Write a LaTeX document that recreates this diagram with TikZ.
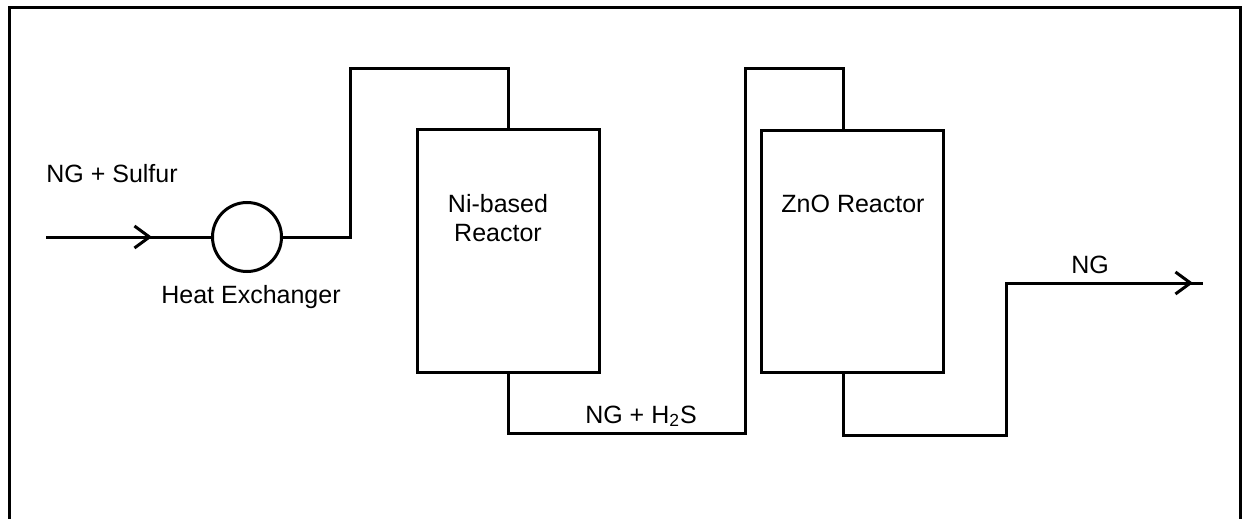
\documentclass[tikz,border=0pt]{standalone}
\usepackage{fontspec}
\setmainfont{Liberation Sans}
\usetikzlibrary{arrows.meta, positioning, calc}
\tikzset{
    reactor/.style={rectangle, draw, line width=1.5pt, minimum width=91pt, minimum height=121pt, inner sep=0pt},
    pipe/.style={line width=1.5pt},
    flow/.style={line width=1.5pt, -{Straight Barb[length=7.5pt, width=11pt, line width=1.5pt]}},
    txt/.style={anchor=base, inner sep=0pt, font=\fontsize{12.5}{14}\selectfont}
}

\begin{document}
\begin{tikzpicture}[x=0.5pt, y=-0.5pt]
    \useasboundingbox (0,0) rectangle (1242,519);
    % frame, open at the bottom
    \draw [line width=1.5pt] (9,519) -- (9,8) -- (1240,8) -- (1240,519);

    \node (hx) [circle, draw, line width=1.5pt, minimum size=34.5pt, inner sep=0pt] at (247,237) {};
    \node (ni) [reactor] at (508,251) {};
    \node (zn) [reactor] at (852,251.5) {};

    \node (feed) [txt] at (112,183) {NG + Sulfur};
    \node (hxtxt) [txt] at (251,303) {Heat Exchanger};
    \node (nitxt) [txt, align=center] at (498,241) {Ni-based\\Reactor};
    \node (zntxt) [txt] at (853,213) {ZnO Reactor};
    \node (midtxt) [txt] at (641,423) {NG + H\textsubscript{2}S};
    \node (prod) [txt] at (1090,273) {NG};

    \coordinate (in) at (46,237);
    \coordinate (inTip) at (152,237);
    \coordinate (outTip) at (1193,283);
    \coordinate (out) at (1203,283);

    \draw [pipe] (in) -- (hx.west);
    \draw [flow] (in) -- (inTip);
    \draw [pipe] (hx.east) -| (350,69) -| (ni.north);
    \draw [pipe] (ni.south) |- (745,433) -- (745,69) -| ($(zn.north)+(-9,0)$);
    \draw [pipe] ($(zn.south)+(-9,0)$) |- (1006,435) |- (out);
    \draw [flow] (1006,283) -- (outTip);
\end{tikzpicture}
\end{document}
